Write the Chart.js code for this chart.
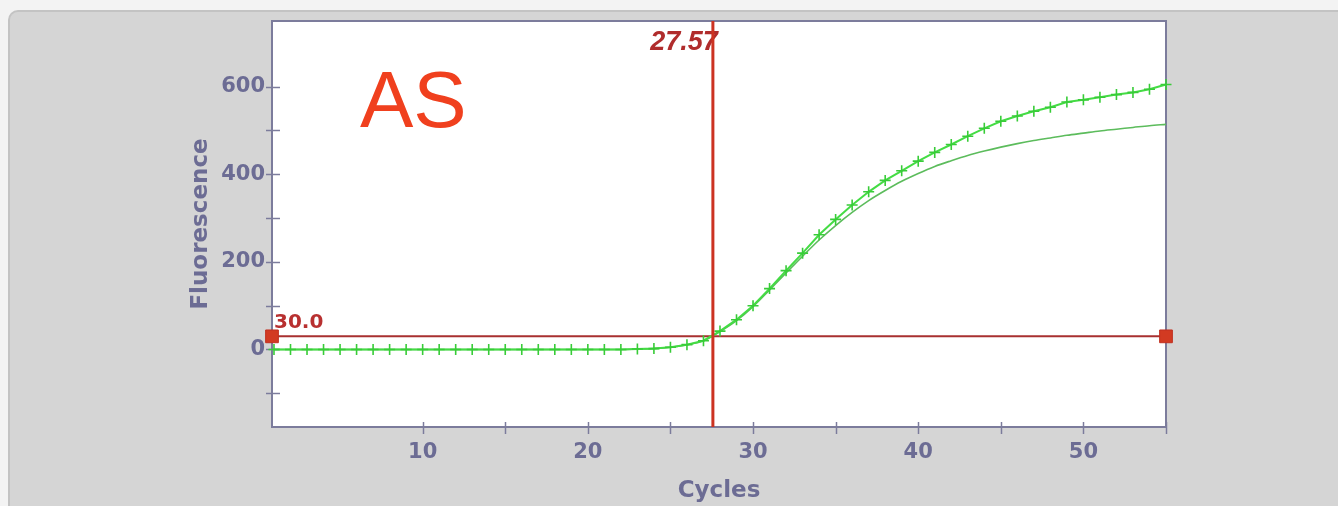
<!DOCTYPE html>
<html>
<head>
<meta charset="utf-8">
<script src="https://cdn.jsdelivr.net/npm/chart.js@4/dist/chart.umd.min.js"></script>
<style>
  html, body { margin: 0; padding: 0; width: 1338px; height: 506px; overflow: hidden; background: #f3f3f3; }
  #panel {
    position: absolute; left: 8px; top: 10px; width: 1400px; height: 560px;
    background: #d5d5d5; border-top: 2px solid #c3c3c3; border-left: 2px solid #c3c3c3;
    border-radius: 10px 0 0 0; box-sizing: border-box;
  }
  #wrap { position: absolute; left: 0; top: 0; width: 1338px; height: 506px; }
</style>
</head>
<body>
<div id="panel"></div>
<div id="wrap"><canvas id="chart" width="1338" height="506"></canvas></div>
<script>
// Amplification run: cycle numbers
const cycles = [
  1, 2, 3, 4, 5, 6, 7, 8, 9, 10, 11, 12, 13, 14, 15, 16, 17, 18, 19, 20,
  21, 22, 23, 24, 25, 26, 27, 28, 29, 30, 31, 32, 33, 34, 35, 36, 37, 38, 39, 40,
  41, 42, 43, 44, 45, 46, 47, 48, 49, 50, 51, 52, 53, 54, 55
];
// Measured fluorescence per cycle (drawn with + markers)
const measured = [
  0, 0, 0, 0, 0, 0, 0, 0, 0, 0, 0, 0, 0, 0, 0, 0, 0, 0, 0, 0,
  0, 0, 1, 2, 5, 11, 20, 42, 68, 100, 139, 180, 220, 262, 297, 330, 360, 386, 408, 430,
  450, 468, 487, 505, 521, 533, 544, 553, 565, 570, 576, 582, 587, 594, 605
];
// Fitted curve per cycle
const fitted = [
  0, 0, 0, 0, 0, 0, 0, 0, 0, 0, 0, 0, 0, 0, 0, 0, 0, 0, 0, 0,
  0, 0, 1, 2, 5, 11, 20, 41, 66, 98, 136, 175, 213, 250, 283, 313, 340, 363, 384, 402,
  418, 431, 443, 453, 462, 470, 477, 483, 489, 494, 499, 503, 507, 511, 514
];
const threshold = 30.0;
const thresholdLabel = '30.0';
const ctValue = 27.57;
const ctLabel = '27.57';
const sampleName = 'AS';
const xTickLabels = [10, 20, 30, 40, 50];
const yTickLabels = [0, 200, 400, 600];

const X_MIN = 0.88, X_MAX = 55;
const Y_MIN = -177, Y_MAX = 750;

const axisColor = '#7c7c9c';
const textColor = '#6c6c94';
const tickFont = { family: 'DejaVu Sans', size: 21, weight: 'bold' };
const titleFont = { family: 'DejaVu Sans', size: 23, weight: 'bold' };

// White plot background
const plotBackground = {
  id: 'plotBackground',
  beforeDraw(chart) {
    const { ctx, chartArea: a } = chart;
    ctx.save();
    ctx.fillStyle = '#ffffff';
    ctx.fillRect(a.left, a.top, a.right - a.left, a.bottom - a.top);
    ctx.restore();
  }
};

// Frame and tick marks that cross the axis lines
const frameAndTicks = {
  id: 'frameAndTicks',
  beforeDatasetsDraw(chart) {
    const { ctx, chartArea: a, scales: { x, y } } = chart;
    ctx.save();
    ctx.strokeStyle = axisColor;
    ctx.lineWidth = 2;
    ctx.strokeRect(a.left, a.top, a.right - a.left, a.bottom - a.top);
    ctx.lineWidth = 1.5;
    y.ticks.forEach(t => {
      const py = Math.round(y.getPixelForValue(t.value)) + 0.5;
      ctx.beginPath(); ctx.moveTo(a.left - 6, py); ctx.lineTo(a.left + 8, py); ctx.stroke();
    });
    x.ticks.forEach(t => {
      const px = Math.round(x.getPixelForValue(t.value)) + 0.5;
      ctx.beginPath(); ctx.moveTo(px, a.bottom - 5); ctx.lineTo(px, a.bottom + 7); ctx.stroke();
    });
    ctx.restore();
  }
};

// Text annotations: Ct value, threshold value, sample name
const annotations = {
  id: 'annotations',
  beforeDatasetsDraw(chart) {
    const { ctx, chartArea: a, scales: { x } } = chart;
    ctx.save();
    ctx.fillStyle = '#b02c2c';
    ctx.font = 'italic bold 27px "Liberation Sans"';
    ctx.textAlign = 'right';
    ctx.textBaseline = 'alphabetic';
    ctx.fillText(ctLabel, x.getPixelForValue(ctValue) + 5, a.top + 29);
    ctx.restore();
  },
  afterDatasetsDraw(chart) {
    const { ctx, chartArea: a, scales: { y } } = chart;
    ctx.save();
    ctx.fillStyle = '#b83030';
    ctx.font = 'bold 20px "DejaVu Sans"';
    ctx.textAlign = 'left';
    ctx.textBaseline = 'alphabetic';
    ctx.fillText(thresholdLabel, a.left + 2, y.getPixelForValue(threshold) - 8);
    ctx.fillStyle = '#f0401e';
    ctx.font = '80px "Liberation Sans"';
    ctx.fillText(sampleName, a.left + 88, a.top + 106);
    ctx.restore();
  }
};

const toPoints = vals => cycles.map((c, i) => ({ x: c, y: vals[i] }));

new Chart(document.getElementById('chart'), {
  type: 'line',
  data: {
    datasets: [
      {
        label: 'Ct',
        data: [{ x: ctValue, y: Y_MIN }, { x: ctValue, y: Y_MAX }],
        borderColor: '#cc3322',
        borderWidth: 3,
        pointRadius: 0
      },
      {
        label: 'Measured',
        data: toPoints(measured),
        borderColor: '#44dc44',
        borderWidth: 2,
        pointStyle: 'cross',
        pointRadius: 5.5,
        pointBorderColor: '#38cc38',
        pointBorderWidth: 1.6,
        clip: 8
      },
      {
        label: 'Fit',
        data: toPoints(fitted),
        borderColor: '#5cbc5c',
        borderWidth: 1.6,
        pointRadius: 0,
        cubicInterpolationMode: 'monotone'
      },
      {
        label: 'Threshold',
        data: [{ x: X_MIN, y: threshold }, { x: X_MAX, y: threshold }],
        borderColor: '#a83030',
        borderWidth: 2,
        pointStyle: 'rect',
        pointRadius: 9,
        pointBackgroundColor: '#d23a22',
        pointBorderColor: '#c03020',
        pointBorderWidth: 1,
        clip: false
      }
    ]
  },
  options: {
    responsive: false,
    animation: false,
    devicePixelRatio: 1,
    layout: { padding: { top: 21, right: 1338 - 1166, left: 0, bottom: 0 } },
    plugins: { legend: { display: false }, tooltip: { enabled: false } },
    scales: {
      x: {
        type: 'linear',
        min: X_MIN,
        max: X_MAX,
        afterFit(s) { s.height = 79; },
        afterBuildTicks(s) { s.ticks = s.ticks.filter(t => Math.abs(t.value % 5) < 1e-9); },
        grid: { display: false, drawTicks: false },
        border: { display: false },
        ticks: {
          stepSize: 5,
          autoSkip: false,
          maxRotation: 0,
          padding: 13,
          color: textColor,
          font: tickFont,
          callback: v => xTickLabels.includes(v) ? String(v) : ''
        },
        title: { display: true, text: 'Cycles', color: textColor, font: titleFont, padding: { top: 0, bottom: 1 } }
      },
      y: {
        type: 'linear',
        min: Y_MIN,
        max: Y_MAX,
        afterFit(s) { s.width = 272; },
        afterBuildTicks(s) { s.ticks = s.ticks.filter(t => Math.abs(t.value % 100) < 1e-9); },
        grid: { display: false, drawTicks: false },
        border: { display: false },
        ticks: {
          stepSize: 100,
          autoSkip: false,
          padding: 7,
          color: textColor,
          font: tickFont,
          callback: v => yTickLabels.includes(v) ? String(v) : ''
        },
        title: { display: true, text: 'Fluorescence', color: textColor, font: titleFont, padding: { top: 187, bottom: 0 } }
      }
    }
  },
  plugins: [plotBackground, frameAndTicks, annotations]
});
</script>
</body>
</html>
